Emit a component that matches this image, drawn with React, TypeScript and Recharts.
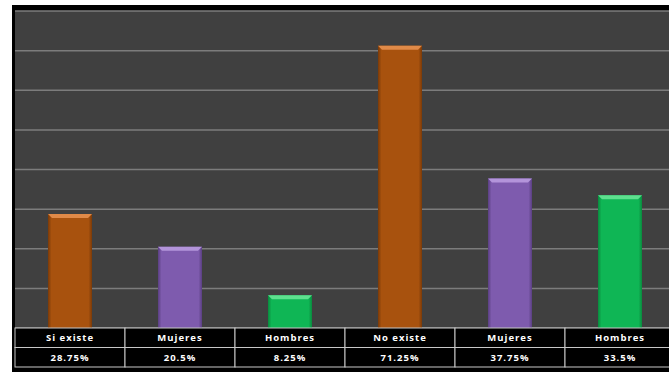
import React from 'react';
import { BarChart, Bar, XAxis, YAxis, CartesianGrid, Cell } from 'recharts';

const categories = ['Si existe', 'Mujeres', 'Hombres', 'No existe', 'Mujeres', 'Hombres'];
const values = [28.75, 20.5, 8.25, 71.25, 37.75, 33.5];
const valueLabels = ['28.75%', '20.5%', '8.25%', '71.25%', '37.75%', '33.5%'];
const barColors = ['#A8520E', '#7E5BAE', '#0FB655', '#A8520E', '#7E5BAE', '#0FB655'];
const lightColors = ['#E08A48', '#B394DA', '#5EE08F', '#E08A48', '#B394DA', '#5EE08F'];
const darkColors = ['#7A3A08', '#5A3F82', '#0A8A3E', '#7A3A08', '#5A3F82', '#0A8A3E'];
const yTicks = [0, 10, 20, 30, 40, 50, 60, 70, 80];

const data = categories.map((c, i) => ({ key: `c${i}`, name: c, value: values[i], label: valueLabels[i] }));

const BarShape = (props: any) => {
  const { x, y, width, height, index } = props;
  if (!height || height <= 0) return null;
  const id = `g${index}`;
  const b = 4;
  return (
    <g>
      <defs>
        <linearGradient id={id} x1="0" y1="0" x2="1" y2="0">
          <stop offset="0" stopColor={darkColors[index]} />
          <stop offset="0.08" stopColor={barColors[index]} />
          <stop offset="0.92" stopColor={barColors[index]} />
          <stop offset="1" stopColor={darkColors[index]} />
        </linearGradient>
      </defs>
      <rect x={x} y={y} width={width} height={height} fill={`url(#${id})`} />
      <polygon
        points={`${x},${y} ${x + width},${y} ${x + width - b},${y + b} ${x + b},${y + b}`}
        fill={lightColors[index]}
      />
    </g>
  );
};

const TableTick = (props: any) => {
  const { x, y, index } = props;
  const w = 110;
  const h = 19.5;
  const top = y;
  const fontStyle = {
    fontFamily: 'Open Sans, Liberation Sans, sans-serif',
    fontWeight: 700,
    fontSize: 9.5,
    letterSpacing: 1,
  } as any;
  return (
    <g>
      <rect x={x - w / 2} y={top} width={w} height={h} fill="#000" stroke="#c8c8c8" strokeWidth={1} />
      <rect x={x - w / 2} y={top + h} width={w} height={h} fill="#000" stroke="#c8c8c8" strokeWidth={1} />
      <text x={x} y={top + h / 2 + 3.5} textAnchor="middle" fill="#fff" style={fontStyle}>
        {categories[index]}
      </text>
      <text x={x} y={top + h + h / 2 + 3.5} textAnchor="middle" fill="#fff" style={fontStyle}>
        {valueLabels[index]}
      </text>
    </g>
  );
};

export default function App() {
  return (
    <div style={{ position: 'absolute', left: 0, top: 0, width: 669, height: 372, background: '#fff', overflow: 'hidden' }}>
      <div style={{ position: 'absolute', left: 12, top: 5, width: 657, height: 367, background: '#000' }} />
      <div style={{ position: 'absolute', left: 0, top: 0 }}>
        <BarChart width={680} height={372} data={data} margin={{ top: 11, right: 5, bottom: 0, left: 15 }} barCategoryGap={0}>
          <CartesianGrid vertical={false} fill="#404040" stroke="#7c7c7c" strokeWidth={1.5} />
          <YAxis hide domain={[0, 80]} ticks={yTicks} />
          <XAxis
            dataKey="key"
            axisLine={false}
            tickLine={false}
            tickSize={0}
            tickMargin={0}
            height={44}
            interval={0}
            tick={<TableTick />}
          />
          <Bar dataKey="value" barSize={44} isAnimationActive={false} shape={<BarShape />}>
            {data.map((d, i) => (
              <Cell key={d.key} fill={barColors[i]} />
            ))}
          </Bar>
        </BarChart>
      </div>
    </div>
  );
}
